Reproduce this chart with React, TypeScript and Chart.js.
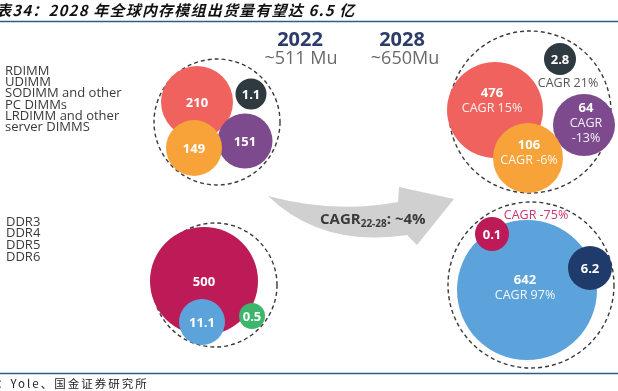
import React, { useEffect, useRef } from "react";
import { Chart, registerables } from "chart.js";

Chart.register(...registerables);

// ---------- DATA ----------
const titleText = "表34：2028 年全球内存模组出货量有望达 6.5 亿";
const sourceText = "：Yole、国金证券研究所";
const years = ["2022", "2028"];
const totals = ["~511 Mu", "~650Mu"];
const overallCagrLabel = "CAGR";
const overallCagrSub = "22-28";
const overallCagrValue = ": ~4%";

const moduleTypes = ["RDIMM", "UDIMM", "SODIMM and other", "PC DIMMs", "LRDIMM and other", "server DIMMS"];
const modules2022 = [210, 1.1, 149, 151];
const modules2028 = [476, 2.8, 106, 64];
const modulesCagr = ["CAGR 15%", "CAGR 21%", "CAGR -6%", "CAGR\n-13%"];

const ddrTypes = ["DDR3", "DDR4", "DDR5", "DDR6"];
const ddr2022 = [0.5, 500, 11.1, null];
const ddr2028 = [null, 0.1, 642, 6.2];
const ddrCagr = [null, "CAGR -75%", "CAGR 97%", null];

// ---------- STYLE / LAYOUT ----------
const moduleColors = ["#f0625e", "#2f3940", "#f8a23a", "#7d4a8d"];
const ddrColors = ["#3db56b", "#bd1a58", "#5ba3da", "#1f3b6b"];

// bubble layout (pixel frame 618 x 391): [cx, cy, r]
const layoutModules2022 = [[197, 102, 36], [251, 94, 15.5], [194, 148, 28], [245, 141, 27.5]];
const layoutModules2028 = [[495, 110, 48], [560, 59, 16], [528, 158, 35], [584, 125, 31]];
const layoutDdr2022 = [[252, 316, 13], [204, 281, 54], [202, 322, 23], null];
const layoutDdr2028 = [null, [492, 234, 17], [527, 290, 70], [590, 268, 22]];
const groupCircles = [[217, 122, 63], [530, 112, 81], [215, 285, 62], [531, 285, 83]];

type Pt = { x: number; y: number; r: number; value: number; color: string; cagr: string | null; key: string };

function buildPoints(): Pt[] {
  const pts: Pt[] = [];
  const add = (vals: (number | null)[], lay: any[], colors: string[], cagr: (string | null)[] | null, order: number[], key: string) => {
    order.forEach((i) => {
      const v = vals[i];
      const l = lay[i];
      if (v == null || !l) return;
      pts.push({ x: l[0], y: l[1], r: l[2], value: v, color: colors[i], cagr: cagr ? cagr[i] : null, key: key + i });
    });
  };
  add(modules2022, layoutModules2022, moduleColors, null, [0, 1, 3, 2], "m22-");
  add(modules2028, layoutModules2028, moduleColors, modulesCagr, [0, 1, 3, 2], "m28-");
  add(ddr2022, layoutDdr2022, ddrColors, null, [1, 2, 0], "d22-");
  add(ddr2028, layoutDdr2028, ddrColors, ddrCagr, [2, 1, 3], "d28-");
  return pts;
}

const FONT = "'Open Sans', 'DejaVu Sans', sans-serif";

export default function App() {
  const ref = useRef<HTMLCanvasElement>(null);
  useEffect(() => {
    const canvas = ref.current!;
    const pts = buildPoints();

    const decor = {
      id: "decor",
      beforeDatasetsDraw(chart: any) {
        const ctx = chart.ctx as CanvasRenderingContext2D;
        const xs = chart.scales.x, ys = chart.scales.y;
        ctx.save();
        const P = (x: number, y: number) => [xs.getPixelForValue(x), ys.getPixelForValue(y)];
        // arrow
        ctx.fillStyle = "#d0d0d0";
        ctx.beginPath();
        let p = P(268, 196); ctx.moveTo(p[0], p[1]);
        let c = P(335, 214), e = P(398, 202); ctx.quadraticCurveTo(c[0], c[1], e[0], e[1]);
        p = P(399, 187); ctx.lineTo(p[0], p[1]);
        p = P(454, 199); ctx.lineTo(p[0], p[1]);
        p = P(417, 245); ctx.lineTo(p[0], p[1]);
        p = P(407, 235); ctx.lineTo(p[0], p[1]);
        c = P(322, 248); e = P(268, 196); ctx.quadraticCurveTo(c[0], c[1], e[0], e[1]);
        ctx.closePath();
        ctx.fill();
        // dashed group circles
        ctx.strokeStyle = "#3a3a3a";
        ctx.lineWidth = 1.4;
        ctx.setLineDash([4, 3]);
        groupCircles.forEach(([x, y, r]) => {
          const q = P(x, y);
          ctx.beginPath();
          ctx.arc(q[0], q[1], r, 0, Math.PI * 2);
          ctx.stroke();
        });
        ctx.setLineDash([]);
        ctx.restore();
      },
      afterDatasetsDraw(chart: any) {
        const ctx = chart.ctx as CanvasRenderingContext2D;
        const meta = chart.getDatasetMeta(0);
        ctx.save();
        ctx.textAlign = "center";
        ctx.textBaseline = "middle";
        meta.data.forEach((el: any, i: number) => {
          const pt = pts[i];
          const x = el.x, y = el.y;
          const num = String(pt.value);
          ctx.fillStyle = "#ffffff";
          ctx.font = `bold 13px ${FONT}`;
          if (!pt.cagr) {
            ctx.fillText(num, x, y + 1);
            return;
          }
          if (pt.key === "m28-1") {
            ctx.fillText(num, x, y + 1);
            ctx.fillStyle = "#555555";
            ctx.font = `12.5px ${FONT}`;
            ctx.fillText(pt.cagr, x + 8, y + 24);
            return;
          }
          if (pt.key === "d28-1") {
            ctx.fillText(num, x, y + 1);
            ctx.fillStyle = "#c9356c";
            ctx.font = `12.5px ${FONT}`;
            ctx.fillText(pt.cagr, x + 44, y - 19);
            return;
          }
          const lines = pt.cagr.split("\n");
          const total = 1 + lines.length;
          const lh = 14.5;
          const shift = pt.key === "m28-0" ? 9 : pt.key === "d28-2" ? 2 : pt.key === "m28-2" ? 5 : pt.key === "m28-3" ? 2 : 0;
          const y0 = y - ((total - 1) * lh) / 2 - shift;
          const dx = pt.key === "m28-0" ? -3 : pt.key === "m28-3" ? 2 : pt.key === "d28-2" ? -2 : 1;
          ctx.fillText(num, x + dx, y0);
          ctx.font = `12.5px ${FONT}`;
          ctx.fillStyle = "rgba(255,255,255,0.92)";
          lines.forEach((ln, k) => ctx.fillText(ln, x + dx, y0 + lh * (k + 1) + 0.5));
        });
        ctx.restore();
      },
      afterDraw(chart: any) {
        const ctx = chart.ctx as CanvasRenderingContext2D;
        ctx.save();
        ctx.textBaseline = "middle";
        ctx.textAlign = "left";
        // title
        ctx.fillStyle = "#111111";
        ctx.font = "italic bold 15px 'Noto Sans CJK SC', sans-serif";
        (ctx as any).letterSpacing = "1.2px";
        ctx.fillText(titleText, -4, 10);
        // source
        ctx.fillStyle = "#222222";
        ctx.font = "11.5px 'Noto Sans CJK SC', sans-serif";
        (ctx as any).letterSpacing = "2px";
        ctx.fillText(sourceText, -3, 384);
        (ctx as any).letterSpacing = "0px";
        // rules
        ctx.strokeStyle = "#2f5c8a";
        ctx.lineWidth = 1.3;
        ctx.beginPath(); ctx.moveTo(0, 21.5); ctx.lineTo(618, 21.5); ctx.stroke();
        ctx.beginPath(); ctx.moveTo(0, 373.5); ctx.lineTo(618, 373.5); ctx.stroke();
        // year headers
        ctx.textAlign = "center";
        ctx.fillStyle = "#2b3c69";
        ctx.font = `bold 20px ${FONT}`;
        ctx.fillText(years[0], 300, 40);
        ctx.fillText(years[1], 402, 40);
        ctx.fillStyle = "#6a6a6a";
        ctx.font = `18px ${FONT}`;
        ctx.fillText(totals[0], 301, 59);
        ctx.fillText(totals[1], 405, 59);
        // legends
        ctx.textAlign = "left";
        ctx.fillStyle = "#3a3a3a";
        ctx.font = `13px ${FONT}`;
        moduleTypes.forEach((t, i) => ctx.fillText(t, 5, 71 + i * 11.3));
        ddrTypes.forEach((t, i) => ctx.fillText(t, 6, 222 + i * 11.6));
        // overall CAGR
        ctx.font = `bold 15px ${FONT}`;
        const bx = 320;
        ctx.fillText(overallCagrLabel, bx, 220);
        let w = ctx.measureText(overallCagrLabel).width;
        ctx.font = `bold 10px ${FONT}`;
        ctx.fillText(overallCagrSub, bx + w, 224);
        w += ctx.measureText(overallCagrSub).width;
        ctx.font = `bold 15px ${FONT}`;
        ctx.fillText(overallCagrValue, bx + w, 220);
        ctx.restore();
      },
    };

    const chart = new Chart(canvas, {
      type: "bubble",
      data: {
        datasets: [
          {
            data: pts.map((p) => ({ x: p.x, y: p.y, r: p.r })),
            backgroundColor: pts.map((p) => p.color),
            borderWidth: 0,
            hoverBorderWidth: 0,
            clip: false as any,
          },
        ],
      },
      options: {
        responsive: false,
        animation: false,
        devicePixelRatio: 1,
        layout: { padding: 0, autoPadding: false },
        events: [],
        plugins: { legend: { display: false }, tooltip: { enabled: false }, title: { display: false } },
        scales: {
          x: { type: "linear", display: false, min: 0, max: 618 },
          y: { type: "linear", display: false, min: 0, max: 391, reverse: true },
        },
      },
      plugins: [decor],
    });
    return () => chart.destroy();
  }, []);
  return (
    <div style={{ position: "absolute", left: 0, top: 0, width: 618, height: 391, background: "#fff" }}>
      <canvas ref={ref} width={618} height={391} style={{ display: "block" }} />
    </div>
  );
}
